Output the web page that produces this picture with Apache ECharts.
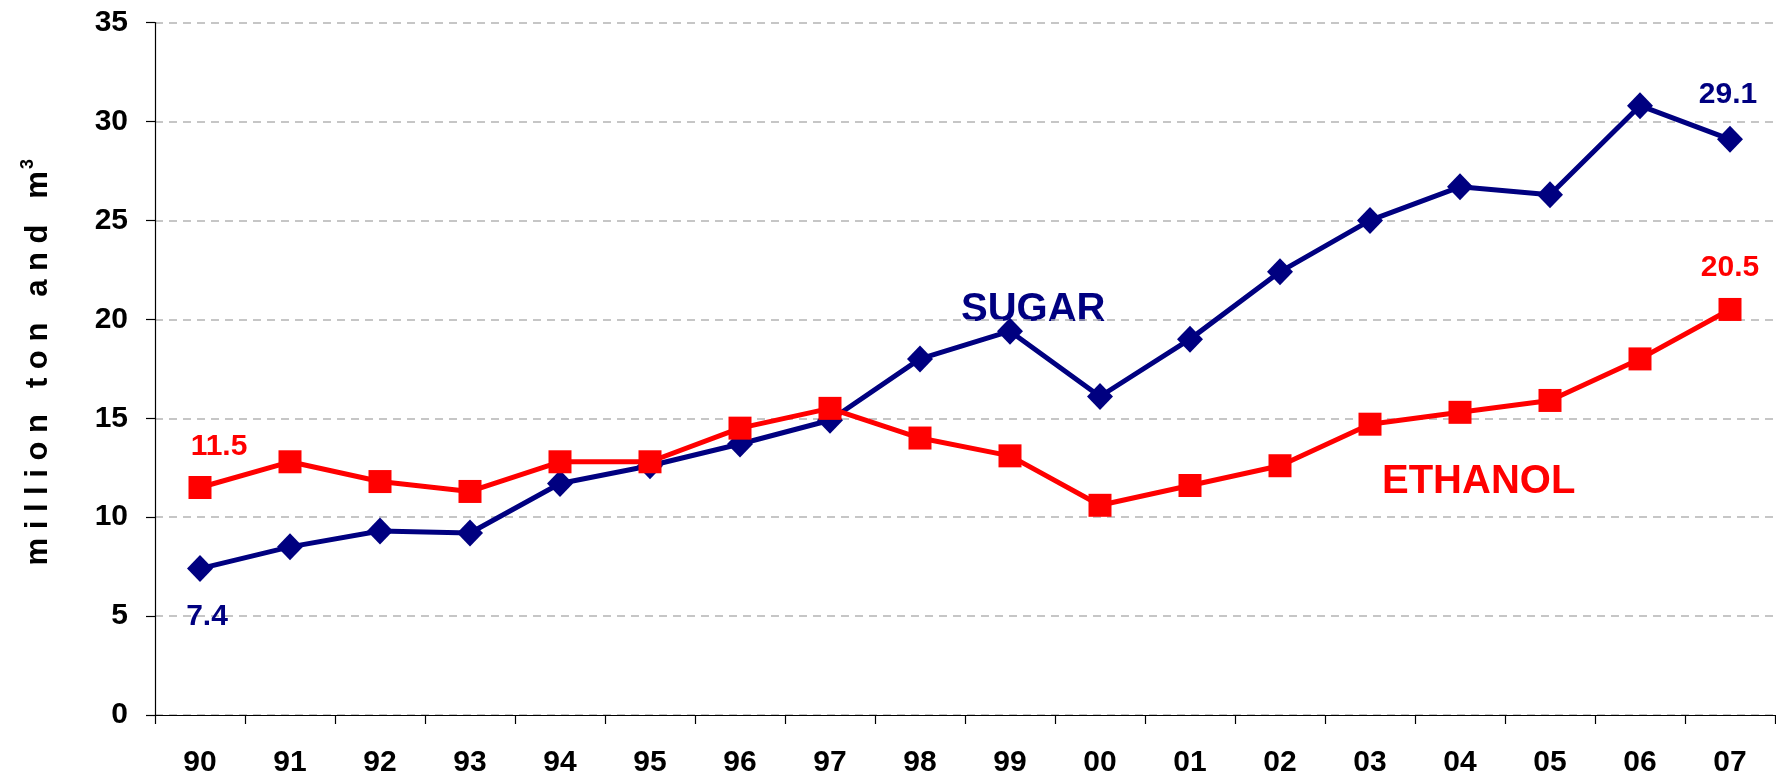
<!DOCTYPE html>
<html>
<head>
<meta charset="utf-8">
<script src="https://cdn.jsdelivr.net/npm/echarts@6/dist/echarts.min.js"></script>
<style>
  html, body { margin: 0; padding: 0; background: #fff; }
  #chart { width: 1776px; height: 776px; }
</style>
</head>
<body>
<div id="chart"></div>
<script>
// years (19xx / 20xx)
const years = ['90', '91', '92', '93', '94', '95', '96', '97', '98', '99', '00', '01', '02', '03', '04', '05', '06', '07'];
// million ton
const sugar = [7.4, 8.5, 9.3, 9.2, 11.7, 12.6, 13.7, 14.9, 18.0, 19.4, 16.1, 19.0, 22.4, 25.0, 26.7, 26.3, 30.8, 29.1];
// million m3
const ethanol = [11.5, 12.8, 11.8, 11.3, 12.8, 12.8, 14.5, 15.5, 14.0, 13.1, 10.6, 11.6, 12.6, 14.7, 15.3, 15.9, 18.0, 20.5];
const yTicks = [0, 5, 10, 15, 20, 25, 30, 35];

const FONT = 'Liberation Sans, Arial, sans-serif';
const NAVY = '#000080';
const RED = '#ff0000';

// spread the letters of the axis name
function spaced(words) {
  return words.map(function (w) { return w.split('').join(' '); }).join('   ');
}

// only first and last point get a value label
function withEndLabels(values, color, firstOffset, lastOffset) {
  return values.map(function (v, i) {
    if (i === 0 || i === values.length - 1) {
      return {
        value: v,
        label: {
          show: true,
          position: 'inside',
          offset: i === 0 ? firstOffset : lastOffset,
          color: color,
          fontFamily: FONT,
          fontWeight: 'bold',
          fontSize: 30,
          formatter: function (p) { return p.value.toFixed(1); }
        }
      };
    }
    return v;
  });
}

let myChart = echarts.init(document.getElementById('chart'));
let option = {
  animation: false,
  backgroundColor: '#fff',
  grid: { left: 155, right: 1, top: 22.6, bottom: 61, outerBoundsMode: 'none' },
  xAxis: {
    type: 'category',
    data: years,
    boundaryGap: true,
    axisLine: { lineStyle: { color: '#000', width: 1.2 } },
    axisTick: { show: true, interval: 0, length: 9, lineStyle: { color: '#000', width: 1.2 } },
    axisLabel: { interval: 0, margin: 33, color: '#000', fontFamily: FONT, fontWeight: 'bold', fontSize: 30 }
  },
  yAxis: {
    type: 'value',
    min: yTicks[0],
    max: yTicks[yTicks.length - 1],
    interval: 5,
    name: '{a|' + spaced(['million', 'ton', 'and', 'm']) + '}{s|3}',
    nameLocation: 'middle',
    nameRotate: 90,
    nameGap: 98,
    nameTextStyle: {
      padding: [0, 0, 0, 13],
      rich: {
        a: { fontFamily: FONT, fontWeight: 'bold', fontSize: 31, color: '#000' },
        s: { fontFamily: FONT, fontWeight: 'bold', fontSize: 18, color: '#000', verticalAlign: 'top', padding: [0, 0, 20, 2] }
      }
    },
    axisLine: { show: true, lineStyle: { color: '#000', width: 1.2 } },
    axisTick: { show: true, length: 9, lineStyle: { color: '#000', width: 1.2 } },
    axisLabel: { margin: 27, color: '#000', fontFamily: FONT, fontWeight: 'bold', fontSize: 30 },
    splitLine: { show: true, lineStyle: { color: '#b4b4b4', width: 1.5, type: [8, 6] } }
  },
  graphic: [
    {
      type: 'text', left: 961, top: 290,
      style: { text: 'SUGAR', fill: NAVY, font: 'bold 40px ' + FONT }
    },
    {
      type: 'text', left: 1382, top: 462,
      style: { text: 'ETHANOL', fill: RED, font: 'bold 40px ' + FONT }
    }
  ],
  series: [
    {
      name: 'SUGAR',
      type: 'line',
      data: withEndLabels(sugar, NAVY, [7, 48], [-2, -45]),
      symbol: 'diamond',
      symbolSize: [26, 27],
      lineStyle: { color: NAVY, width: 5 },
      itemStyle: { color: NAVY },
      z: 2
    },
    {
      name: 'ETHANOL',
      type: 'line',
      data: withEndLabels(ethanol, RED, [19, -41], [0, -42]),
      symbol: 'rect',
      symbolSize: 23,
      lineStyle: { color: RED, width: 5 },
      itemStyle: { color: RED },
      z: 3
    }
  ]
};
myChart.setOption(option);
</script>
</body>
</html>
